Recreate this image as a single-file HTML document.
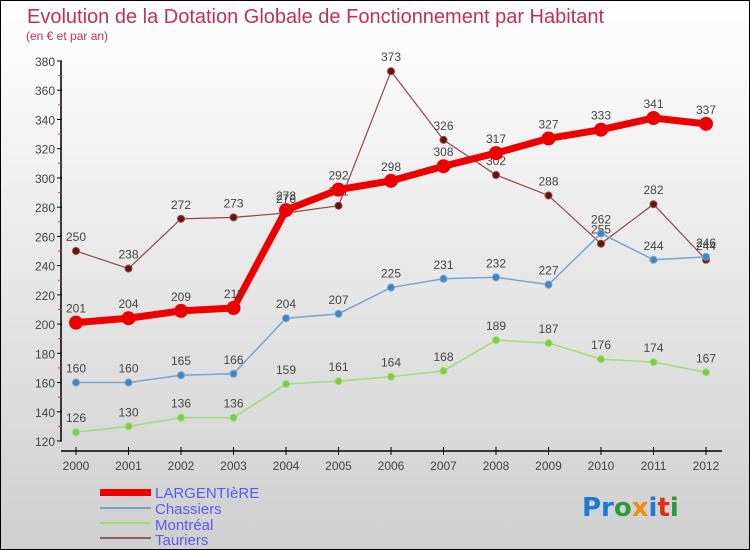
<!DOCTYPE html>
<html><head><meta charset="utf-8"><style>
body{margin:0}
#c{width:750px;height:550px;position:relative;overflow:hidden;background:linear-gradient(#ffffff,#cfcfcf);box-sizing:border-box;border:1px solid #000;font-family:"Liberation Sans",sans-serif}
</style></head><body>
<div id="c">
<svg id="s" width="750" height="550" style="position:absolute;left:-1px;top:-1px">
<text x="27" y="23" font-size="20" fill="#c0305a">Evolution de la Dotation Globale de Fonctionnement par Habitant</text>
<text x="26" y="40" font-size="12" fill="#c0305a">(en € et par an)</text>
<g id="ax"></g><g id="ser"></g>
<g>
<rect x="100" y="489" width="51" height="7" fill="#e00"/>
<text x="155" y="498" font-size="15" fill="#5a5aee">LARGENTIèRE</text>
<rect x="100" y="507" width="51" height="2" fill="#7aa3c8"/>
<text x="155" y="514" font-size="15" fill="#5a5aee">Chassiers</text>
<rect x="100" y="522" width="51" height="2" fill="#9edc78"/>
<text x="155" y="530" font-size="15" fill="#5a5aee">Montréal</text>
<rect x="100" y="537" width="51" height="2" fill="#8a6060"/>
<text x="155" y="545" font-size="15" fill="#5a5aee">Tauriers</text>
</g>
<text x="582" y="516" font-size="26" font-family="DejaVu Sans" font-weight="bold"><tspan fill="#1a7ad4">Pr</tspan><tspan fill="#2a9a3a">o</tspan><tspan fill="#f08a10">x</tspan><tspan fill="#1a7ad4">i</tspan><tspan fill="#e03010">t</tspan><tspan fill="#2a9a3a">i</tspan></text>
</svg></div>
<script>
const years=["2000","2001","2002","2003","2004","2005","2006","2007","2008","2009","2010","2011","2012"];
const yTicks=[120,140,160,180,200,220,240,260,280,300,320,340,360,380];
const largentiere=[201,204,209,211,278,292,298,308,317,327,333,341,337];
const chassiers=[160,160,165,166,204,207,225,231,232,227,262,244,246];
const montreal=[126,130,136,136,159,161,164,168,189,187,176,174,167];
const tauriers=[250,238,272,273,276,281,373,326,302,288,255,282,244];
const NS="http://www.w3.org/2000/svg";
const X=i=>76+i*52.5, Y=v=>441-(v-120)*380/260;
function mk(t,a,p){const e=document.createElementNS(NS,t);for(const k in a)e.setAttribute(k,a[k]);p.appendChild(e);return e;}
const ax=document.getElementById('ax');
let yl=mk('line',{x1:61,y1:61,x2:61,y2:441,stroke:'#000','stroke-width':1.5},ax);


let xl=mk('line',{x1:61,y1:451,x2:722,y2:451,stroke:'#000','stroke-width':1.5},ax);


yTicks.forEach((v,i)=>{
 mk('line',{x1:57,y1:Y(v),x2:62,y2:Y(v),stroke:'#000'},ax);
 if(i<yTicks.length-1) mk('line',{x1:58,y1:Y(v+10),x2:61,y2:Y(v+10),stroke:'#f33'},ax);
 const t=mk('text',{x:55,y:Y(v)+5,'font-size':12,fill:'#444','text-anchor':'end'},ax);t.textContent=v;
 
 
});
years.forEach((y,i)=>{
 mk('line',{x1:X(i),y1:447,x2:X(i),y2:455,stroke:'#000'},ax);
 const t=mk('text',{x:X(i),y:470,'font-size':12,fill:'#444','text-anchor':'middle'},ax);t.textContent=y;
 
 
});
const ser=document.getElementById('ser');
function draw(name,vals,col,dot,w,r){
 const g=mk('g',{},ser);
 
 
 const l=mk('polyline',{points:vals.map((v,i)=>X(i)+','+Y(v)).join(' '),fill:'none',stroke:col,'stroke-width':w},g);
 
 
 vals.forEach((v,i)=>{
  const c=mk('circle',{cx:X(i),cy:Y(v),r:r,fill:dot,stroke:col,'stroke-width':1},g);
  
  
  const t=mk('text',{x:X(i),y:Y(v)-10,'font-size':12,fill:'#444','text-anchor':'middle'},g);t.textContent=v;
  
  
 });
}
draw('tauriers',tauriers,'#8a4a4a','#6a1010',1.2,3.5);
draw('montreal',montreal,'#9edc78','#7ccc40',1.5,3.5);
draw('chassiers',chassiers,'#7aa3c8','#3a86c8',1.5,3.5);
draw('largentiere',largentiere,'#ee0000','#ee0000',7,6.5);
</script></body></html>
